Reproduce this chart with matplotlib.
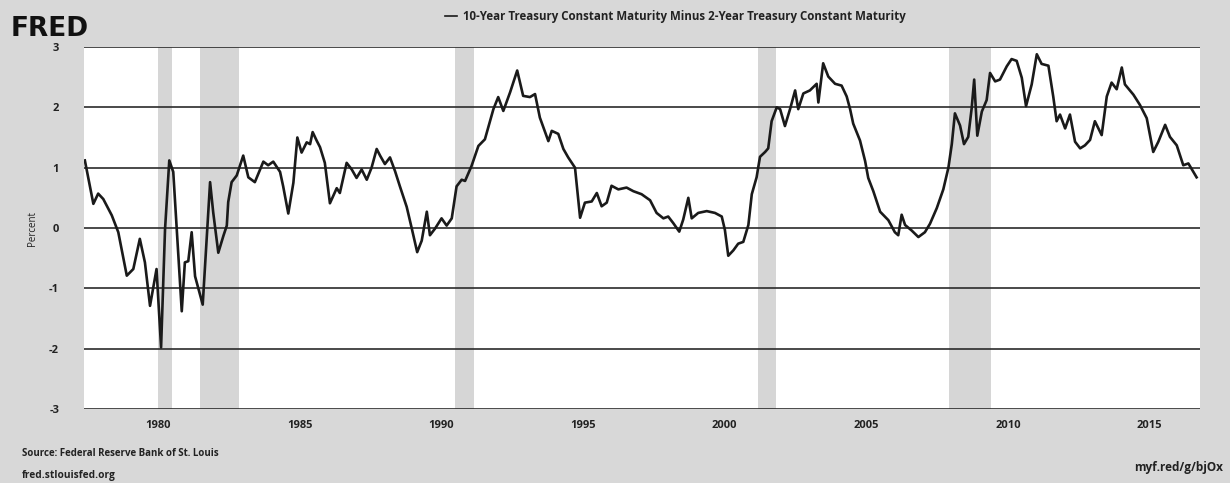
#!/usr/bin/env python3
"""
FRED chart: 10-Year Treasury Constant Maturity Minus 2-Year Treasury Constant Maturity.
Values read off a scanned FRED graph (decimal years, percent).
"""
import matplotlib
import matplotlib.pyplot as plt

matplotlib.use("Agg")

plt.rcParams.update({
    "font.family": ["Open Sans", "DejaVu Sans"],
    "font.size": 8,
    "axes.unicode_minus": False,
})

# decimal year, spread in percent
years = [
    1977.42, 1977.72, 1977.89, 1978.07, 1978.37, 1978.60, 1978.90, 1979.13, 1979.36, 1979.54,
    1979.72, 1979.95, 1980.11, 1980.25, 1980.40, 1980.54, 1980.84, 1980.95, 1981.07, 1981.19,
    1981.31, 1981.58, 1981.84, 1981.95, 1982.13, 1982.31, 1982.43, 1982.48, 1982.60, 1982.78,
    1983.01, 1983.19, 1983.42, 1983.72, 1983.89, 1984.07, 1984.31, 1984.42, 1984.60, 1984.78,
    1984.92, 1985.07, 1985.25, 1985.37, 1985.46, 1985.60, 1985.72, 1985.89, 1986.07, 1986.31,
    1986.42, 1986.66, 1986.84, 1987.01, 1987.19, 1987.37, 1987.54, 1987.72, 1987.84, 1988.01,
    1988.19, 1988.37, 1988.54, 1988.78, 1988.96, 1989.15, 1989.31, 1989.49, 1989.60, 1989.78,
    1990.01, 1990.19, 1990.37, 1990.54, 1990.72, 1990.84, 1991.07, 1991.31, 1991.54, 1991.84,
    1992.01, 1992.19, 1992.43, 1992.68, 1992.89, 1993.13, 1993.31, 1993.48, 1993.78, 1993.90,
    1994.13, 1994.31, 1994.48, 1994.72, 1994.90, 1995.07, 1995.31, 1995.49, 1995.66, 1995.84,
    1996.01, 1996.25, 1996.54, 1996.78, 1997.07, 1997.37, 1997.60, 1997.84, 1998.01, 1998.19,
    1998.40, 1998.54, 1998.72, 1998.84, 1999.07, 1999.37, 1999.66, 1999.90, 2000.01, 2000.13,
    2000.31, 2000.48, 2000.66, 2000.84, 2000.96, 2001.13, 2001.25, 2001.43, 2001.54, 2001.66,
    2001.84, 2001.96, 2002.13, 2002.31, 2002.49, 2002.60, 2002.78, 2003.01, 2003.25, 2003.31,
    2003.48, 2003.66, 2003.90, 2004.13, 2004.31, 2004.43, 2004.54, 2004.78, 2004.96, 2005.07,
    2005.25, 2005.49, 2005.78, 2006.01, 2006.13, 2006.25, 2006.37, 2006.60, 2006.84, 2007.07,
    2007.25, 2007.49, 2007.72, 2007.90, 2008.02, 2008.13, 2008.31, 2008.45, 2008.60, 2008.72,
    2008.81, 2008.92, 2009.08, 2009.25, 2009.37, 2009.55, 2009.72, 2009.96, 2010.13, 2010.31,
    2010.49, 2010.64, 2010.84, 2011.02, 2011.19, 2011.43, 2011.60, 2011.72, 2011.84, 2012.02,
    2012.19, 2012.37, 2012.55, 2012.72, 2012.90, 2013.07, 2013.31, 2013.49, 2013.66, 2013.84,
    2014.02, 2014.13, 2014.43, 2014.66, 2014.90, 2015.13, 2015.31, 2015.55, 2015.72, 2015.96,
    2016.19, 2016.37, 2016.66,
]
spread = [
    1.12, 0.40, 0.57, 0.48, 0.21, -0.07, -0.79, -0.68, -0.18, -0.57,
    -1.29, -0.68, -1.98, -0.02, 1.12, 0.93, -1.38, -0.57, -0.55, -0.07,
    -0.80, -1.27, 0.76, 0.26, -0.41, -0.13, 0.04, 0.43, 0.76, 0.87,
    1.20, 0.84, 0.76, 1.10, 1.04, 1.10, 0.93, 0.69, 0.24, 0.75,
    1.50, 1.25, 1.42, 1.39, 1.59, 1.45, 1.34, 1.08, 0.41, 0.66,
    0.58, 1.08, 0.97, 0.83, 0.97, 0.80, 1.00, 1.31, 1.20, 1.06,
    1.17, 0.94, 0.69, 0.35, -0.01, -0.40, -0.21, 0.27, -0.12, -0.01,
    0.16, 0.04, 0.16, 0.69, 0.80, 0.78, 1.03, 1.36, 1.47, 1.97,
    2.17, 1.94, 2.25, 2.61, 2.19, 2.17, 2.22, 1.83, 1.44, 1.61,
    1.56, 1.31, 1.17, 1.00, 0.17, 0.42, 0.44, 0.58, 0.36, 0.42,
    0.70, 0.64, 0.67, 0.61, 0.56, 0.46, 0.25, 0.16, 0.19, 0.08,
    -0.06, 0.14, 0.50, 0.16, 0.25, 0.28, 0.25, 0.19, -0.03, -0.46,
    -0.37, -0.26, -0.23, 0.05, 0.56, 0.84, 1.18, 1.26, 1.32, 1.77,
    2.00, 1.97, 1.69, 1.97, 2.28, 1.97, 2.23, 2.28, 2.39, 2.08,
    2.73, 2.51, 2.39, 2.36, 2.18, 1.97, 1.73, 1.45, 1.11, 0.83,
    0.61, 0.27, 0.13, -0.07, -0.12, 0.22, 0.05, -0.04, -0.15, -0.07,
    0.07, 0.33, 0.64, 1.00, 1.39, 1.90, 1.70, 1.39, 1.51, 1.98,
    2.46, 1.53, 1.93, 2.12, 2.57, 2.43, 2.46, 2.68, 2.80, 2.77,
    2.49, 2.02, 2.38, 2.88, 2.72, 2.69, 2.18, 1.77, 1.88, 1.65,
    1.88, 1.43, 1.32, 1.37, 1.46, 1.77, 1.54, 2.18, 2.41, 2.30,
    2.66, 2.38, 2.21, 2.04, 1.82, 1.26, 1.43, 1.71, 1.51, 1.37,
    1.04, 1.07, 0.84,
]

# NBER recessions (start, end) in decimal years
rec_start = [1980.0, 1981.5, 1990.5, 2001.17, 2007.92]
rec_end = [1980.5, 1982.87, 1991.17, 2001.83, 2009.42]

x_ticks = [1980, 1985, 1990, 1995, 2000, 2005, 2010, 2015]
y_ticks = [-3, -2, -1, 0, 1, 2, 3]

BG = "#d8d8d8"
TXT = "#222222"

fig = plt.figure(figsize=(12.3, 4.83), dpi=100, facecolor=BG)
ax = fig.add_axes([0.0683, 0.1532, 0.9073, 0.7495])
ax.set_facecolor("white")

for s, e in zip(rec_start, rec_end):
    ax.axvspan(s, e, color="#d6d6d6", lw=0, zorder=1)

for y in y_ticks:
    ax.axhline(y, color="#2b2b2b", lw=1.2, zorder=2)

line, = ax.plot(years, spread, color="#1a1a1a", lw=1.9, zorder=3,
                label="10-Year Treasury Constant Maturity Minus 2-Year Treasury Constant Maturity")

ax.set_xlim(1977.39, 2016.78)
ax.set_ylim(-3, 3)
ax.set_xticks(x_ticks)
ax.set_yticks(y_ticks)
ax.tick_params(length=0, colors=TXT, labelsize=8)
ax.tick_params(axis="x", pad=8)
ax.tick_params(axis="y", pad=18)
for lab in ax.get_xticklabels() + ax.get_yticklabels():
    lab.set_fontweight("bold")
for sp in ax.spines.values():
    sp.set_visible(False)
ax.set_ylabel("Percent", fontsize=7, color=TXT, labelpad=8)

leg = fig.legend(handles=[line], loc="center", bbox_to_anchor=(0.549, 0.965),
                 frameon=False, handlelength=1.0, handletextpad=0.5,
                 prop={"size": 8.3, "weight": "bold"}, labelcolor=TXT)
for h in leg.get_lines():
    h.set_linewidth(1.2)

fig.text(0.009, 0.925, "FRED", fontsize=19, fontweight="heavy", color="#111111",
         family="DejaVu Sans")
fig.text(0.018, 0.055, "Source: Federal Reserve Bank of St. Louis", fontsize=7,
         fontweight="bold", color=TXT)
fig.text(0.018, 0.01, "fred.stlouisfed.org", fontsize=7.3, fontweight="bold", color=TXT)
fig.text(0.994, 0.025, "myf.red/g/bjOx", fontsize=8.5, fontweight="bold",
         color=TXT, ha="right")

fig.savefig("out.png", dpi=100, facecolor=BG)
